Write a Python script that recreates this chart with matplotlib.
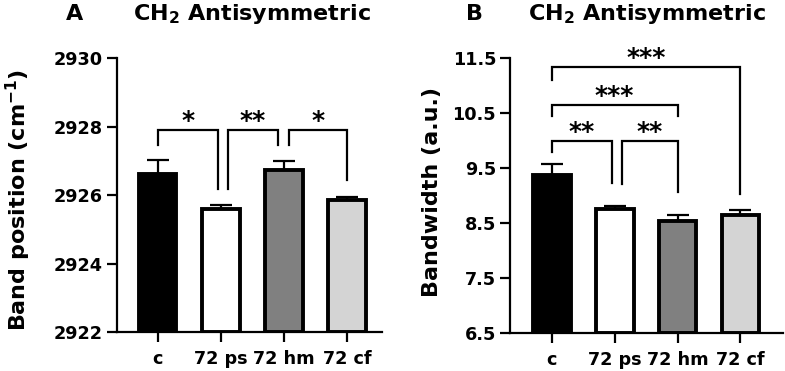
import matplotlib
matplotlib.use("Agg")
import matplotlib.pyplot as plt

plt.rcParams['font.family'] = ['DejaVu Sans']
plt.rcParams['font.weight'] = 'bold'
plt.rcParams['mathtext.fontset'] = 'custom'
plt.rcParams['mathtext.rm'] = 'DejaVu Sans:bold'
plt.rcParams['mathtext.bf'] = 'DejaVu Sans:bold'
plt.rcParams['mathtext.default'] = 'bf'

groups = ["c", "72 ps", "72 hm", "72 cf"]
colors = ["black", "white", "#808080", "#d4d4d4"]

# panel A - band position
pos_mean = [2926.62, 2925.6, 2926.72, 2925.84]
pos_err = [0.40, 0.10, 0.27, 0.10]
# (left, right, top, left leg end, right leg end, label)
pos_brackets = [
    (0, 0.95, 2927.9, 2927.47, 2926.18, "*"),
    (1.12, 1.9, 2927.9, 2926.18, 2927.47, "**"),
    (2.08, 3, 2927.9, 2927.47, 2926.44, "*"),
]

# panel B - bandwidth
bw_mean = [9.37, 8.75, 8.54, 8.645]
bw_err = [0.21, 0.07, 0.11, 0.10]
bw_brackets = [
    (0, 3, 11.34, 11.10, 9.04, "***"),
    (0, 2, 10.66, 10.46, 10.46, "***"),
    (0, 0.95, 10.0, 9.80, 9.23, "**"),
    (1.12, 2, 10.0, 9.21, 9.06, "**"),
]

fig = plt.figure(figsize=(7.85, 3.71), dpi=100)


def draw_panel(ax, means, errs, brackets, ylim, yticks, yfmt, xlim):
    x = range(len(groups))
    ax.bar(x, [m - ylim[0] for m in means], bottom=ylim[0], width=0.6,
           color=colors, edgecolor="black", linewidth=2.8, zorder=2)
    ax.errorbar(x, means, yerr=[[0] * len(errs), errs], fmt="none",
                ecolor="black", elinewidth=1.6, capsize=8, capthick=1.6, zorder=1)
    for l, r, top, yl, yr, lab in brackets:
        ax.plot([l, l, r, r], [yl, top, top, yr], color="black", lw=1.6,
                solid_joinstyle="miter", clip_on=False)
        ax.annotate(lab, xy=((l + r) / 2, top), xytext=(0, 1.5),
                    textcoords="offset points", ha="center", va="baseline",
                    fontsize=18, fontweight="bold", annotation_clip=False)
    ax.set_ylim(*ylim)
    ax.set_xlim(*xlim)
    ax.set_yticks(yticks)
    ax.set_yticklabels([yfmt.format(t) for t in yticks])
    ax.set_xticks(list(x))
    ax.set_xticklabels(groups)
    ax.spines["top"].set_visible(False)
    ax.spines["right"].set_visible(False)
    for s in ["left", "bottom"]:
        ax.spines[s].set_linewidth(1.6)
    ax.tick_params(width=1.6, length=7, labelsize=12.7, pad=3)
    ax.tick_params(axis="x", pad=6)
    for lab in ax.get_xticklabels() + ax.get_yticklabels():
        lab.set_fontweight("bold")


axA = fig.add_axes([0.1487, 0.1051, 0.338, 0.7385])
draw_panel(axA, pos_mean, pos_err, pos_brackets, (2922, 2930),
           [2922, 2924, 2926, 2928, 2930], "{:d}", (-0.645, 3.55))

axB = fig.add_axes([0.6497, 0.1024, 0.348, 0.740])
draw_panel(axB, bw_mean, bw_err, bw_brackets, (6.5, 11.5),
           [6.5, 7.5, 8.5, 9.5, 10.5, 11.5], "{:.1f}", (-0.664, 3.68))

fig.text(75 / 785, 1 - 14 / 371, "A", fontsize=16, fontweight="bold", ha="center", va="center")
fig.text(252 / 785, 1 - 14 / 371, r"CH$_2$ Antisymmetric", fontsize=16,
         fontweight="bold", ha="center", va="center")
fig.text(475 / 785, 1 - 14 / 371, "B", fontsize=16, fontweight="bold", ha="center", va="center")
fig.text(647 / 785, 1 - 14 / 371, r"CH$_2$ Antisymmetric", fontsize=16,
         fontweight="bold", ha="center", va="center")

fig.text(18 / 785, 1 - 200 / 371, r"Band position (cm$^{-1}$)", fontsize=16,
         fontweight="bold", rotation=90, ha="center", va="center")
fig.text(432 / 785, 1 - 192 / 371, "Bandwidth (a.u.)", fontsize=16,
         fontweight="bold", rotation=90, ha="center", va="center")

fig.savefig("out.png", dpi=100)
